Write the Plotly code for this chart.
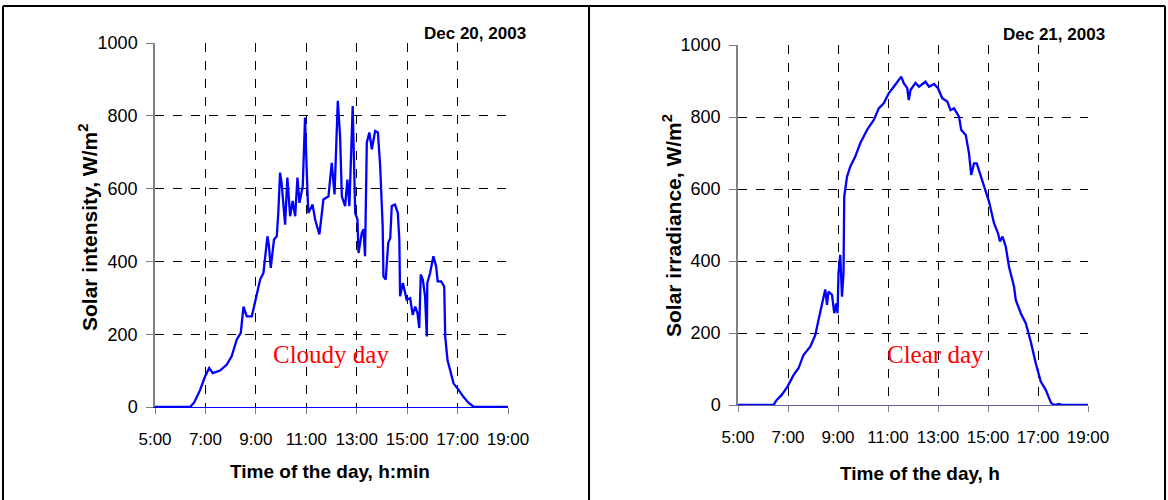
import plotly.graph_objects as go

# ---------------- data ----------------
# Dec 20, 2003 (cloudy day): time of day in hours, solar intensity W/m2
cloudy_hours = [5.0, 6.39, 6.55, 6.79, 6.98, 7.15, 7.29, 7.58, 7.84, 8.04, 8.24, 8.40, 8.51, 8.64,
                8.84, 8.97, 9.17, 9.30, 9.46, 9.52, 9.59, 9.72, 9.83, 9.89, 9.96, 10.02, 10.16,
                10.25, 10.36, 10.46, 10.56, 10.65, 10.73, 10.86, 10.95, 11.02, 11.08, 11.25,
                11.35, 11.52, 11.68, 11.88, 12.01, 12.12, 12.25, 12.34, 12.41, 12.54, 12.63,
                12.71, 12.80, 12.84, 12.90, 12.94, 13.03, 13.07, 13.20, 13.27, 13.33, 13.37,
                13.40, 13.50, 13.60, 13.73, 13.84, 13.93, 14.03, 14.06, 14.15, 14.25, 14.33,
                14.39, 14.52, 14.63, 14.69, 14.72, 14.83, 14.98, 15.12, 15.22, 15.32, 15.41,
                15.48, 15.54, 15.62, 15.71, 15.78, 15.80, 15.91, 16.04, 16.15, 16.21, 16.35,
                16.47, 16.51, 16.60, 16.73, 16.84, 17.04, 17.23, 17.43, 17.63, 18.0, 19.0]
cloudy_values = [0, 0, 12, 47, 83, 107, 93, 100, 116, 139, 185, 203, 276, 249,
                 249, 286, 350, 368, 469, 442, 382, 460, 469, 533, 644, 616, 501,
                 630, 524, 566, 524, 630, 561, 607, 795, 644, 533, 556,
                 515, 474, 570, 579, 671, 584, 841, 745, 579, 552, 625,
                 552, 791, 827, 653, 533, 515, 423, 478, 488, 414, 607,
                 726, 754, 708, 758, 754, 662, 497, 359, 350, 451, 464,
                 552, 556, 533, 460, 304, 341, 295, 299, 253, 276, 258,
                 217, 364, 350, 304, 194, 341, 368, 414, 386, 345, 345,
                 331, 194, 129, 93, 65, 47, 28, 12, 1, 0, 0]

# Dec 21, 2003 (clear day): time of day in hours, solar irradiance W/m2
clear_hours = [5.0, 6.42, 6.55, 6.75, 6.98, 7.22, 7.42, 7.62, 7.89, 8.09, 8.22, 8.36, 8.49, 8.56,
               8.62, 8.76, 8.85, 8.93, 8.98, 9.02, 9.09, 9.16, 9.22, 9.25, 9.36, 9.49, 9.69,
               9.89, 10.16, 10.43, 10.63, 10.83, 11.03, 11.23, 11.37, 11.53, 11.63, 11.77,
               11.83, 11.90, 12.10, 12.24, 12.50, 12.64, 12.84, 13.00, 13.17, 13.37, 13.50,
               13.64, 13.84, 13.93, 14.11, 14.24, 14.33, 14.44, 14.55, 14.71, 14.87, 15.04,
               15.24, 15.40, 15.48, 15.58, 15.71, 15.84, 16.04, 16.11, 16.31, 16.51, 16.71,
               16.91, 17.11, 17.31, 17.52, 17.65, 17.85, 17.95, 18.1, 19.0]
clear_values = [0, 0, 14, 28, 51, 83, 102, 139, 162, 194, 236, 282, 321, 278,
                315, 306, 255, 282, 255, 366, 417, 301, 366, 579, 634, 662, 690,
                727, 764, 792, 824, 838, 866, 884, 898, 912, 894, 880,
                847, 875, 895, 884, 898, 884, 892, 880, 852, 843, 819,
                824, 801, 764, 750, 699, 639, 671, 671, 634, 602, 565,
                505, 477, 454, 468, 440, 384, 329, 292, 255, 227, 176,
                116, 65, 42, 6, 0, 3, 0, 0, 0]

tick_hours = [5, 7, 9, 11, 13, 15, 17, 19]
tick_labels = ["5:00", "7:00", "9:00", "11:00", "13:00", "15:00", "17:00", "19:00"]
y_ticks = [0, 200, 400, 600, 800, 1000]

# ---------------- figure ----------------
W, H = 1168, 500
BLUE = "#0000ff"
SANS = "Liberation Sans, Arial, sans-serif"
SERIF = "Liberation Serif, Times New Roman, serif"

fig = go.Figure()
fig.add_trace(go.Scatter(x=cloudy_hours, y=cloudy_values, mode="lines",
                         line=dict(color=BLUE, width=2.3), xaxis="x", yaxis="y",
                         showlegend=False, hoverinfo="skip"))
fig.add_trace(go.Scatter(x=clear_hours, y=clear_values, mode="lines",
                         line=dict(color=BLUE, width=2.3), xaxis="x2", yaxis="y2",
                         showlegend=False, hoverinfo="skip"))


def px_x(p):
    return p / W


def px_y(p):
    return 1 - p / H


common_x = dict(range=[5, 19], tickmode="array", tickvals=tick_hours, ticktext=tick_labels,
                showgrid=True, gridcolor="black", griddash="dash", gridwidth=1,
                zeroline=False, showline=True, linewidth=1.2, automargin=False,
                ticks="outside", ticklen=6, tickcolor="#808080", tickwidth=1,
                tickfont=dict(family=SANS, size=17, color="black"),
                ticklabelstandoff=10, fixedrange=True)
common_y = dict(range=[0, 1000], tickmode="array", tickvals=y_ticks,
                showgrid=True, gridcolor="black", griddash="dash", gridwidth=1,
                zeroline=False, showline=True, linecolor="#808080", linewidth=1.5, automargin=False,
                ticks="outside", ticklen=7, tickcolor="#808080", tickwidth=1,
                tickfont=dict(family=SANS, size=18, color="black"),
                ticklabelstandoff=5, fixedrange=True)

fig.update_layout(
    width=W, height=H, autosize=False,
    margin=dict(l=0, r=0, t=0, b=0, pad=0, autoexpand=False),
    paper_bgcolor="white", plot_bgcolor="white",
    xaxis=dict(domain=[px_x(155), px_x(508)], anchor="y", linecolor=BLUE, **common_x),
    yaxis=dict(domain=[px_y(407), px_y(43)], anchor="x", **common_y),
    xaxis2=dict(domain=[px_x(738), px_x(1088)], anchor="y2", linecolor="#6060a0", **common_x),
    yaxis2=dict(domain=[px_y(405), px_y(45)], anchor="x2", **common_y),
)

ann = []
# x-axis titles
ann.append(dict(text="<b>Time of the day, h:min</b>", x=px_x(330), y=px_y(471), xref="paper", yref="paper",
                showarrow=False, font=dict(family=SANS, size=19, color="black"), xanchor="center", yanchor="middle"))
ann.append(dict(text="<b>Time of the day, h</b>", x=px_x(920), y=px_y(473), xref="paper", yref="paper",
                showarrow=False, font=dict(family=SANS, size=19, color="black"), xanchor="center", yanchor="middle"))
# y-axis titles
ann.append(dict(text="<b>Solar intensity, W/m<sup>2</sup></b>", x=px_x(88), y=px_y(228), xref="paper", yref="paper",
                showarrow=False, textangle=-90, font=dict(family=SANS, size=21, color="black"),
                xanchor="center", yanchor="middle"))
ann.append(dict(text="<b>Solar irradiance, W/m<sup>2</sup></b>", x=px_x(672), y=px_y(226), xref="paper", yref="paper",
                showarrow=False, textangle=-90, font=dict(family=SANS, size=21, color="black"),
                xanchor="center", yanchor="middle"))
# dates
ann.append(dict(text="<b>Dec 20, 2003</b>", x=px_x(528), y=px_y(33), xref="paper", yref="paper",
                showarrow=False, font=dict(family=SANS, size=17, color="black"), xanchor="right", yanchor="middle"))
ann.append(dict(text="<b>Dec 21, 2003</b>", x=px_x(1107), y=px_y(34), xref="paper", yref="paper",
                showarrow=False, font=dict(family=SANS, size=17, color="black"), xanchor="right", yanchor="middle"))
# day labels
ann.append(dict(text="Cloudy day", x=px_x(331), y=px_y(354), xref="paper", yref="paper",
                showarrow=False, font=dict(family=SERIF, size=25, color="#ff0000"), xanchor="center", yanchor="middle"))
ann.append(dict(text="Clear day", x=px_x(935), y=px_y(354), xref="paper", yref="paper",
                showarrow=False, font=dict(family=SERIF, size=25, color="#ff0000"), xanchor="center", yanchor="middle"))
fig.update_layout(annotations=ann)

# outer frame and divider
frame = dict(color="black", width=2)
shapes = [
    dict(type="line", xref="paper", yref="paper", x0=px_x(3), x1=px_x(1165), y0=px_y(6), y1=px_y(6), line=frame),
    dict(type="line", xref="paper", yref="paper", x0=px_x(3), x1=px_x(3), y0=px_y(6), y1=0, line=frame),
    dict(type="line", xref="paper", yref="paper", x0=px_x(589), x1=px_x(589), y0=px_y(6), y1=0, line=frame),
    dict(type="line", xref="paper", yref="paper", x0=px_x(1165), x1=px_x(1165), y0=px_y(6), y1=0, line=frame),
]
fig.update_layout(shapes=shapes)

fig.write_html("out.html", config={"displayModeBar": False})
